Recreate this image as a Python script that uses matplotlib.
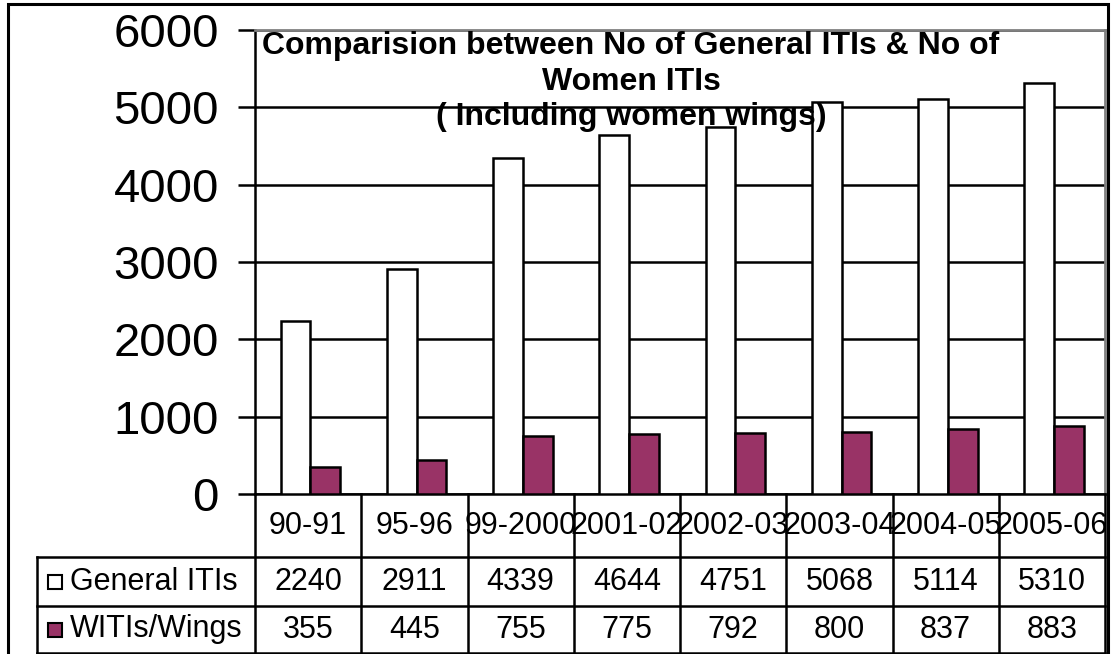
import matplotlib.pyplot as plt
from matplotlib.patches import Rectangle
from matplotlib.lines import Line2D

plt.rcParams['font.family'] = ['Liberation Sans', 'DejaVu Sans']

years = ['90-91', '95-96', '99-2000', '2001-02', '2002-03', '2003-04', '2004-05', '2005-06']
general = [2240, 2911, 4339, 4644, 4751, 5068, 5114, 5310]
women = [355, 445, 755, 775, 792, 800, 837, 883]
series_names = ['General ITIs', 'WITIs/Wings']
purple = '#993366'

W, H = 1112, 654
fig = plt.figure(figsize=(W / 100, H / 100), dpi=100)

def fx(x):
    return x / W

def fy(y):
    return 1 - y / H

x0, x1, yb, yt = 255, 1105, 494, 30
ax = fig.add_axes([fx(x0), fy(yb), fx(x1) - fx(x0), fy(yt) - fy(yb)])

n = len(years)
bw = 0.28
pos = [i + 0.02 for i in range(n)]
ax.bar([p - bw / 2 for p in pos], general, width=bw, color='white', edgecolor='black', linewidth=1.8, zorder=3)
ax.bar([p + bw / 2 for p in pos], women, width=bw, color=purple, edgecolor='black', linewidth=1.8, zorder=3)

ax.set_xlim(-0.5, n - 0.5)
ax.set_ylim(0, 6000)
ax.set_yticks(range(0, 6001, 1000))
ax.tick_params(axis='y', labelsize=34, length=12, width=1.8, pad=14)
ax.set_xticks([])
ax.grid(axis='y', color='black', linewidth=1.8, zorder=0)
ax.set_axisbelow(True)
ax.spines['left'].set_linewidth(1.8)
ax.spines['bottom'].set_linewidth(1.8)
ax.spines['top'].set_color('#808080')
ax.spines['right'].set_color('#808080')
ax.spines['top'].set_linewidth(2)
ax.spines['right'].set_linewidth(2)

ax.text(fx(631), fy(31),
        'Comparision between No of General ITIs & No of\nWomen ITIs\n( Including women wings)',
        transform=fig.transFigure, ha='center', va='top', fontsize=23,
        fontweight='bold', linespacing=1.25, zorder=5)

# data table below the axis
cw = (x1 - x0) / n
r1, r2, r3 = 557, 606, 653
lkw = dict(color='black', linewidth=1.8)
def hline(y, xa, xb):
    fig.add_artist(Line2D([fx(xa), fx(xb)], [fy(y), fy(y)], **lkw))

def vline(x, ya, yb_):
    fig.add_artist(Line2D([fx(x), fx(x)], [fy(ya), fy(yb_)], **lkw))

hline(r1, 37, x1)
hline(r2, 37, x1)
hline(r3, 37, x1)
vline(37, r1, r3)
for i in range(n + 1):
    vline(x0 + i * cw, yb, r3)

for i, lab in enumerate(years):
    cx = x0 + (i + 0.5) * cw
    fig.text(fx(cx), fy((yb + r1) / 2), lab, ha='center', va='center', fontsize=22)
    fig.text(fx(cx), fy((r1 + r2) / 2), str(general[i]), ha='center', va='center', fontsize=22)
    fig.text(fx(cx), fy((r2 + r3) / 2), str(women[i]), ha='center', va='center', fontsize=22)

for (ya, yb_), name, col in zip([(r1, r2), (r2, r3)], series_names, ['white', purple]):
    cy = (ya + yb_) / 2
    fig.add_artist(Rectangle((fx(48), fy(cy + 7)), fx(14), 14 / H,
                             facecolor=col, edgecolor='black', linewidth=1.5))
    fig.text(fx(70), fy(cy), name, ha='left', va='center', fontsize=22)

# outer frame
fig.add_artist(Rectangle((fx(8), fy(H + 5)), fx(1100), (H + 1) / H,
                         fill=False, edgecolor='black', linewidth=2.2))

fig.savefig('out.png', dpi=100)
